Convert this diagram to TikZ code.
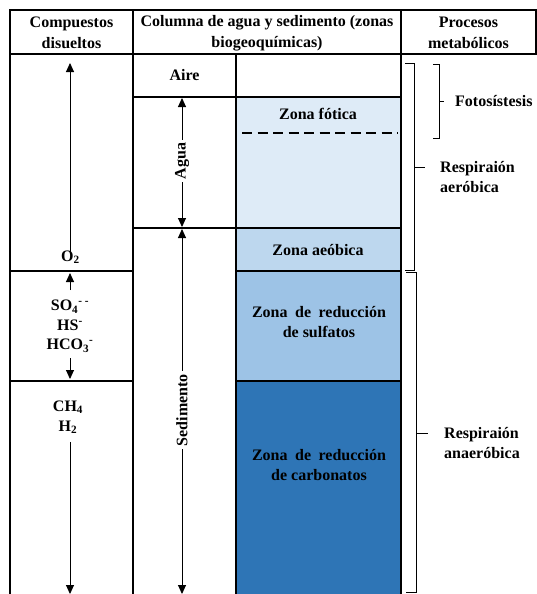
\documentclass[tikz,border=0pt]{standalone}
\usepackage{fontspec}
\setmainfont{Liberation Serif}
\usetikzlibrary{arrows.meta}
\definecolor{cfotica}{HTML}{DEEBF7}
\definecolor{caerob}{HTML}{BDD7EE}
\definecolor{csulf}{HTML}{9DC3E6}
\definecolor{ccarb}{HTML}{2E75B6}
\newcommand{\wsp}{\hspace{0.47em}}
\begin{document}
\begin{tikzpicture}[x=1pt,y=-1pt,
  gridline/.style={line width=1.5pt},
  lbl/.style={font=\fontsize{16}{20}\selectfont\bfseries, align=center, inner sep=0pt},
  lbll/.style={font=\fontsize{16}{20}\selectfont\bfseries, align=left, inner sep=0pt, anchor=west},
  tip/.style={-{Triangle[length=9pt,width=8pt]}},
  arr/.style={line width=0.9pt, tip},
  brk/.style={line width=0.9pt}]
\useasboundingbox (0,0) rectangle (537,594);
% fills
\fill[cfotica] (236,97) rectangle (401,228);
\fill[caerob] (236,228) rectangle (401,271);
\fill[csulf] (236,271) rectangle (401,381);
\fill[ccarb] (236,381) rectangle (401,594);
\draw[line width=2pt, dash pattern=on 10pt off 5.5pt] (242,133) -- (398,133);
% grid
\draw[gridline] (10,10) rectangle (536,54);
\draw[gridline] (10,54) -- (10,594);
\draw[gridline] (133,10) -- (133,594);
\draw[gridline] (401,10) -- (401,594);
\draw[gridline] (236,54) -- (236,594);
\draw[gridline] (133,97) -- (401,97);
\draw[gridline] (133,228) -- (401,228);
\draw[gridline] (10,271) -- (133,271);
\draw[gridline] (236,271) -- (401,271);
\draw[gridline] (10,381) -- (133,381);
\draw[gridline] (236,381) -- (401,381);
% headers
\node[lbl, font=\fontsize{16}{21}\selectfont\bfseries] (hcomp) at (71.5,33) {Compuestos\\disueltos};
\node[lbl, font=\fontsize{16}{21}\selectfont\bfseries] (hcol) at (267,33) {Columna de agua y sedimento (zonas\\biogeoquímicas)};
\node[lbl, font=\fontsize{16}{21}\selectfont\bfseries] (hproc) at (468.5,33) {Procesos\\metabólicos};
% zones
\node[lbl] (aire) at (184.5,75) {Aire};
\node[lbl] (fotica) at (318,114) {Zona fótica};
\node[lbl] (aerob) at (318,250) {Zona aeóbica};
\node[lbl] (sulf) at (319,322) {Zona\wsp de\wsp reducción\\de sulfatos};
\node[lbl] (carb) at (319,465) {Zona\wsp de\wsp reducción\\de carbonatos};
% water / sediment arrows
\coordinate (aguaT) at (182,98);
\coordinate (aguaB) at (182,227);
\node[lbl, rotate=90, inner sep=3pt] (agua) at (182,161) {Agua};
\draw[arr] (agua.east) -- (aguaT);
\draw[arr] (agua.west) -- (aguaB);
\coordinate (sedT) at (182,229);
\coordinate (sedB) at (182,594);
\node[lbl, rotate=90, inner sep=3pt] (sed) at (182,410) {Sedimento};
\draw[arr] (sed.east) -- (sedT);
\draw[arr] (sed.west) -- (sedB);
% dissolved compounds
\node[lbl] (o2) at (70.5,257) {O\textsubscript{2}};
\coordinate (o2top) at (70,63);
\draw[arr] ([yshift=-4pt]o2.north -| o2top) -- (o2top);
\node[lbl, font=\fontsize{16}{19.5}\selectfont\bfseries] (sulfc) at (70,326.5) {SO\textsubscript{4}\textsuperscript{- -}\\HS\textsuperscript{-}\\HCO\textsubscript{3}\textsuperscript{-}};
\coordinate (s1a) at (70,290);
\coordinate (s1b) at (70,273);
\coordinate (s2a) at (70,358);
\coordinate (s2b) at (70,379);
\draw[arr] (s1a) -- (s1b);
\draw[arr] (s2a) -- (s2b);
\node[lbl] (ch4) at (68,417) {CH\textsubscript{4}\\H\textsubscript{2}};
\coordinate (chB) at (70,594);
\draw[arr] ([yshift=-8pt]ch4.south -| chB) -- (chB);
% brackets
\draw[brk] (405,63) -- (414.5,63) -- (414.5,270) -- (405,270);
\draw[brk] (414.5,167) -- (425,167);
\draw[brk] (433,64) -- (439,64) -- (439,138) -- (433,138);
\draw[brk] (439,101) -- (444,101);
\draw[brk] (406,272) -- (416,272) -- (416,592) -- (406,592);
\draw[brk] (416,433) -- (428,433);
\node[lbll] (foto) at (455,101) {Fotosístesis};
\node[lbll] (raer) at (440,177) {Respiraión\\aeróbica};
\node[lbll] (ranaer) at (444,443) {Respiraión\\anaeróbica};
\end{tikzpicture}
\end{document}
